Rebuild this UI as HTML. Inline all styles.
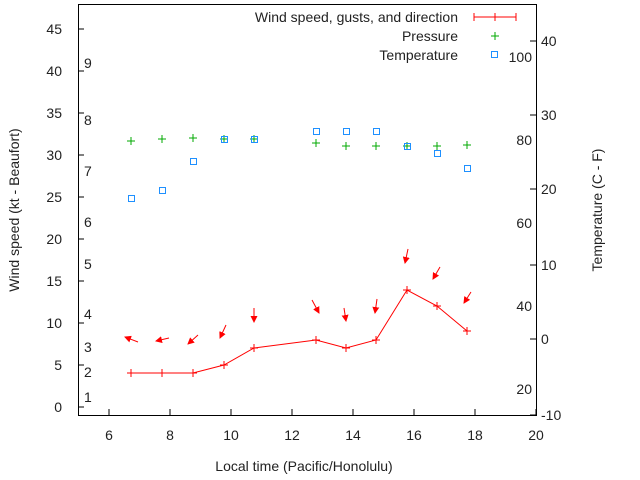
<!DOCTYPE html>
<html><head><style>body{margin:0;background:#fff}svg{display:block}</style></head><body>
<svg width="640" height="480" xmlns="http://www.w3.org/2000/svg" font-family="Liberation Sans, sans-serif" font-size="14" fill="#222">
<defs><marker id="ah" markerWidth="7" markerHeight="7" refX="6" refY="3.5" orient="auto" markerUnits="userSpaceOnUse"><path d="M0,0 L7,3.5 L0,7 Z" fill="#f00"/></marker></defs>
<rect x="78.5" y="4.5" width="458" height="411" fill="none" stroke="#000"/>
<g stroke="#000">
<path d="M78,407h6M78,365h6M78,323h6M78,281h6M78,239h6M78,197h6M78,155h6M78,113h6M78,71h6M78,29h6"/>
<path d="M109,415v-6M170,415v-6M231,415v-6M292,415v-6M353,415v-6M414,415v-6M475,415v-6M536,415v-6"/>
<path d="M536,415h-6M536,339h-6M536,265h-6M536,189h-6M536,115h-6M536,41h-6"/>
</g>
<g text-anchor="end">
<text x="62" y="412">0</text><text x="62" y="370">5</text><text x="62" y="328">10</text><text x="62" y="286">15</text><text x="62" y="244">20</text><text x="62" y="202">25</text><text x="62" y="160">30</text><text x="62" y="118">35</text><text x="62" y="76">40</text><text x="62" y="34">45</text>
</g>
<g text-anchor="middle">
<text x="109" y="440">6</text><text x="170" y="440">8</text><text x="231" y="440">10</text><text x="292" y="440">12</text><text x="353" y="440">14</text><text x="414" y="440">16</text><text x="475" y="440">18</text><text x="536" y="440">20</text>
<text x="304" y="471">Local time (Pacific/Honolulu)</text>
</g>
<g>
<text x="541" y="420">-10</text><text x="541" y="344">0</text><text x="541" y="270">10</text><text x="541" y="194">20</text><text x="541" y="120">30</text><text x="541" y="46">40</text>
</g>
<g>
<text x="84" y="402">1</text><text x="84" y="377">2</text><text x="84" y="352">3</text><text x="84" y="319">4</text><text x="84" y="269">5</text><text x="84" y="227">6</text><text x="84" y="176">7</text><text x="84" y="125">8</text><text x="84" y="68">9</text>
</g>
<g text-anchor="end">
<text x="532" y="62">100</text><text x="532" y="145">80</text><text x="532" y="228">60</text><text x="532" y="311">40</text><text x="532" y="394">20</text>
</g>
<text transform="translate(19,210) rotate(-90)" text-anchor="middle">Wind speed (kt - Beaufort)</text>
<text transform="translate(602,210) rotate(-90)" text-anchor="middle">Temperature (C - F)</text>
<g text-anchor="end">
<text x="458" y="22">Wind speed, gusts, and direction</text>
<text x="458" y="41">Pressure</text>
<text x="458" y="60">Temperature</text>
</g>
<g stroke="#f00" fill="none">
<path d="M474,17h42M474,13v8M516,13v8M495,13v8"/>
<polyline points="131,373 162,373 193,373 224,365 254,348 316,340 346,348 376,340 407,290 437,306 467,331"/>
<path d="M127,373h8M131,369v8M158,373h8M162,369v8M189,373h8M193,369v8M220,365h8M224,361v8M250,348h8M254,344v8M312,340h8M316,336v8M342,348h8M346,344v8M372,340h8M376,336v8M403,290h8M407,286v8M433,306h8M437,302v8M463,331h8M467,327v8"/>
<g marker-end="url(#ah)">
<line x1="138" y1="342" x2="125" y2="337"/><line x1="169" y1="338" x2="156" y2="341"/><line x1="198" y1="335" x2="188" y2="344"/><line x1="226" y1="325" x2="220" y2="338"/><line x1="254" y1="308" x2="254" y2="322"/><line x1="312" y1="300" x2="319" y2="313"/><line x1="344" y1="308" x2="346" y2="321"/><line x1="377" y1="299" x2="375" y2="313"/><line x1="408" y1="249" x2="405" y2="263"/><line x1="440" y1="267" x2="433" y2="279"/><line x1="471" y1="292" x2="464" y2="303"/>
</g>
</g>
<g stroke="#0a0" fill="none">
<path d="M491,36h8M495,32v8"/>
<path d="M127,141h8M131,137v8M158,139h8M162,135v8M189,138h8M193,134v8M220,139h8M224,135v8M250,139h8M254,135v8M312,143h8M316,139v8M342,146h8M346,142v8M372,146h8M376,142v8M403,146h8M407,142v8M433,146h8M437,142v8M463,145h8M467,141v8"/>
</g>
<g stroke="#1e90ff" fill="none">
<rect x="491.5" y="51.5" width="6" height="6"/>
<rect x="128.5" y="195.5" width="6" height="6"/><rect x="159.5" y="187.5" width="6" height="6"/><rect x="190.5" y="158.5" width="6" height="6"/><rect x="221.5" y="136.5" width="6" height="6"/><rect x="251.5" y="136.5" width="6" height="6"/><rect x="313.5" y="128.5" width="6" height="6"/><rect x="343.5" y="128.5" width="6" height="6"/><rect x="373.5" y="128.5" width="6" height="6"/><rect x="404.5" y="143.5" width="6" height="6"/><rect x="434.5" y="150.5" width="6" height="6"/><rect x="464.5" y="165.5" width="6" height="6"/>
</g>
</svg>
</body></html>
